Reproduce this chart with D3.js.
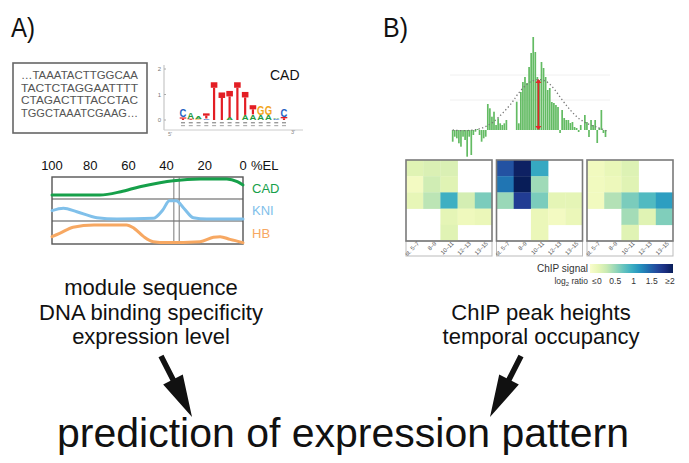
<!DOCTYPE html>
<html><head><meta charset="utf-8">
<script src="https://cdn.jsdelivr.net/npm/d3@7"></script>
<style>
body{margin:0;background:#fff}
svg{display:block}
text{font-family:"Liberation Sans",Arial,sans-serif}
</style>
</head><body>
<svg id="c" width="689" height="463"></svg>
<script>
// ---------------- DATA ----------------
const panelLabels = ["A)", "B)"];
const seqLines = ["…TAAATACTTGGCAA", "TACTCTAGGAATTTT", "CTAGACTTTACCTAC", "TGGCTAAATCGAAG…"];

const logoTitle = "CAD";
const logoTicks = [0, 1, 2];
const logoPositions = [1,2,3,4,5,6,7,8,9,10,11,12,13,14];
// stacks bottom -> top : [letter, bits]
const logoStacks = [
  [["T",0.10],["C",0.33]],
  [["T",0.05],["A",0.24]],
  [["G",0.04],["A",0.08]],
  [["C",0.06],["T",0.20]],
  [["T",1.48]],
  [["T",1.08]],
  [["A",0.10],["T",1.04]],
  [["T",1.48]],
  [["A",0.20],["T",0.90]],
  [["A",0.22],["T",0.36]],
  [["A",0.20],["G",0.36]],
  [["A",0.20],["G",0.36]],
  [["C",0.04],["A",0.06]],
  [["T",0.12],["C",0.30]]
];
const logoColors = {A:"#1f9a3c", C:"#2462c2", G:"#f2a51c", T:"#e31e24"};

const elTicks = [100, 80, 60, 40, 20, 0];
const profileNames = ["CAD", "KNI", "HB"];
const profileColors = ["#16a04a", "#80c0ea", "#f7a862"];
// [ %EL , relative level within row ]
const cadProfile = [[100,0.18],[75,0.18],[64,0.33],[54,0.56],[43.5,0.74],[36.5,0.83],[22.5,0.91],[8.5,0.91],[3,0.79],[0,0.64]];
const kniProfile = [[100,0.47],[94,0.58],[87,0.42],[76.5,0.15],[66,0.09],[47,0.12],[42,0.5],[38.5,0.92],[35,0.92],[31,0.58],[26,0.15],[19,0.09],[0,0.09]];
const hbProfile  = [[100,0.32],[96,0.46],[89,0.73],[78,0.83],[61,0.83],[57,0.68],[52,0.32],[47,0.1],[40,0.06],[22.5,0.1],[15.5,0.29],[12,0.32],[6.8,0.2],[0,0.06]];
const boundaryEL = [36.2, 33.4];

const textA = ["module sequence", "DNA binding specificity", "expression level"];
const textB = ["ChIP peak heights", "temporal occupancy"];
const bottomTitle = "prediction of expression pattern";

// ChIP profile: bar values per genomic bin
const chipValues = [
  -11.7,-6.7,-8.3,-13.3,-16.7,-6.7,-10,-26.7,-6.7,-25,
  -5,-1.7,1,-5,-11.7,-8.3,-6.7,26,21.7,13.3,
  18.3,5,11.7,6.7,5,6.7,10,0,0,0,
  0,28.3,6.7,38,48,53,47,63,77,93,
  78,53,50,68,62,53,40,42,28,27,
  25,23,-3,20,12,10,10,7,8,3,
  2,-2,5,0,15,8,-7,10,5,10,
  -13,2,20,-3,-7
];
// fitted peak (bin, value)
const chipFit = [[0,0],[5,-1],[10.8,0],[14.7,2],[19.5,7],[24.3,17],[29.2,28],[31,35],[36,47],[41.3,52],[47,48],[51.9,33],[56.7,20],[61.6,10],[66.4,5],[71.3,2],[74.6,-1]];
const peakBin = 41.5, peakHeight = 51;

const stages = ["st. 5–7", "8–9", "10–11", "12–13", "13–15"];
const heat1 = [
  [0.26,0.30,0.30,null,null],
  [0.08,0.36,0.26,null,null],
  [0.20,0.46,1.00,0.34,0.72],
  [null,null,0.22,0.12,0.16],
  [null,null,0.26,null,null]
];
const heat2 = [
  [1.56,1.95,1.05,null,null],
  [1.36,2.00,0.58,null,null],
  [0.60,1.70,0.72,0.22,0.22],
  [null,null,0.16,0.08,0.16],
  [null,null,0.16,null,null]
];
const heat3 = [
  [0.10,0.18,0.28,null,null],
  [0.10,0.14,0.26,null,null],
  [0.10,0.50,0.72,0.90,1.12],
  [null,null,0.56,0.26,0.70],
  [null,null,0.26,null,null]
];
const legendTitle = "ChIP signal";
const legendTickValues = [0, 0.5, 1, 1.5, 2];
const legendTickLabels = ["≤0", "0.5", "1", "1.5", "≥2"];

// ---------------- DRAW ----------------
const svg = d3.select("#c");

// Panel labels
svg.append("text").attr("x", 11).attr("y", 37).attr("font-size", 28)
  .attr("textLength", 24).attr("lengthAdjust", "spacingAndGlyphs").attr("fill", "#111").text(panelLabels[0]);
svg.append("text").attr("x", 383).attr("y", 37).attr("font-size", 28)
  .attr("textLength", 25).attr("lengthAdjust", "spacingAndGlyphs").attr("fill", "#111").text(panelLabels[1]);

// ---- Sequence box ----
svg.append("rect").attr("x", 13).attr("y", 63).attr("width", 134).attr("height", 70)
  .attr("fill", "none").attr("stroke", "#666").attr("stroke-width", 1.6);
svg.append("g").selectAll("text").data(seqLines).join("text")
  .attr("x", 21).attr("y", (d, i) => 79 + i * 12.6)
  .attr("font-family", "'Liberation Serif','Times New Roman',serif")
  .attr("font-size", 11.5).attr("fill", "#555")
  .attr("textLength", 117).attr("lengthAdjust", "spacingAndGlyphs")
  .text(d => d);

// ---- Sequence logo ----
const logoY = d3.scaleLinear().domain([0, 2]).range([120, 69]);
const logoX = d3.scalePoint().domain(logoPositions).range([183, 284]);
const gLogo = svg.append("g");
gLogo.append("line").attr("x1", 164).attr("x2", 164).attr("y1", 65).attr("y2", 130).attr("stroke", "#bbb").attr("stroke-width", 1);
gLogo.append("line").attr("x1", 164).attr("x2", 303).attr("y1", 130).attr("y2", 130).attr("stroke", "#ccc").attr("stroke-width", 1);
gLogo.selectAll(".lt").data(logoTicks).join("text").attr("class", "lt")
  .attr("x", 161).attr("y", d => logoY(d) + 2).attr("text-anchor", "end")
  .attr("font-size", 6).attr("fill", "#777").text(d => d);
gLogo.selectAll(".ltk").data(logoTicks).join("line").attr("class", "ltk")
  .attr("x1", 164).attr("x2", 166).attr("y1", d => logoY(d)).attr("y2", d => logoY(d)).attr("stroke", "#aaa");
gLogo.append("text").attr("x", 168).attr("y", 136).attr("font-size", 5.5).attr("fill", "#888").text("5'");
gLogo.append("text").attr("x", 291).attr("y", 134).attr("font-size", 5.5).attr("fill", "#888").text("3'");
gLogo.append("text").attr("x", 270).attr("y", 80).attr("font-size", 14).attr("fill", "#111").text(logoTitle);

logoStacks.forEach((stack, i) => {
  const cx = logoX(logoPositions[i]);
  let cum = 0;
  // tiny grey letters under the baseline
  gLogo.append("rect").attr("x", cx - 2).attr("y", 122).attr("width", 4).attr("height", 1.4).attr("fill", "#9a9a9a");
  gLogo.append("rect").attr("x", cx - 2).attr("y", 125).attr("width", 4).attr("height", 1.2).attr("fill", "#b0b0b0");
  stack.forEach(([L, b]) => {
    const yb = logoY(cum), yt = logoY(cum + b);
    const h = yb - yt;
    const col = logoColors[L];
    if (L === "T") {
      const capH = Math.min(5.5, h * 0.45);
      gLogo.append("rect").attr("x", cx - 3.3).attr("y", yt).attr("width", 6.6).attr("height", capH).attr("fill", col);
      gLogo.append("rect").attr("x", cx - 1.1).attr("y", yt + capH).attr("width", 2.2).attr("height", Math.max(0, h - capH)).attr("fill", col);
    } else {
      const sy = h / 7.2;
      gLogo.append("text").attr("transform", `translate(${cx},${yb}) scale(0.95,${sy})`)
        .attr("text-anchor", "middle").attr("font-size", 10).attr("font-weight", "bold")
        .attr("fill", col).text(L);
    }
    cum += b;
  });
});

// ---- %EL expression profiles ----
const elX = d3.scaleLinear().domain([100, 0]).range([52, 243]);
const rowBounds = [[177, 199], [199, 221], [221, 244]];
const gEL = svg.append("g");
gEL.selectAll(".elt").data(elTicks).join("text").attr("class", "elt")
  .attr("x", d => elX(d)).attr("y", 170).attr("text-anchor", "middle")
  .attr("font-size", 13).attr("fill", "#111").text(d => d);
gEL.append("text").attr("x", 251).attr("y", 170).attr("font-size", 13).attr("fill", "#111").text("%EL");
gEL.append("rect").attr("x", elX(100)).attr("y", 177).attr("width", elX(0) - elX(100)).attr("height", 67)
  .attr("fill", "none").attr("stroke", "#555").attr("stroke-width", 1.4);
[199, 221].forEach(y => gEL.append("line").attr("x1", elX(100)).attr("x2", elX(0)).attr("y1", y).attr("y2", y).attr("stroke", "#555").attr("stroke-width", 1.2));
boundaryEL.forEach(v => gEL.append("line").attr("x1", elX(v)).attr("x2", elX(v)).attr("y1", 177).attr("y2", 244).attr("stroke", "#777").attr("stroke-width", 1));
[cadProfile, kniProfile, hbProfile].forEach((prof, k) => {
  const [top, bot] = rowBounds[k];
  const ry = d3.scaleLinear().domain([0, 1]).range([bot, top]);
  const line = d3.line().x(d => elX(d[0])).y(d => ry(d[1])).curve(d3.curveMonotoneX);
  gEL.append("path").attr("d", line(prof)).attr("fill", "none").attr("stroke", profileColors[k])
    .attr("stroke-width", 3).attr("stroke-linecap", "round");
  gEL.append("text").attr("x", 252).attr("y", (top + bot) / 2 + 5).attr("font-size", 13)
    .attr("fill", profileColors[k]).text(profileNames[k]);
});

// ---- text blocks ----
svg.append("g").selectAll("text").data(textA).join("text")
  .attr("x", 151).attr("y", (d, i) => 295 + i * 24.5).attr("text-anchor", "middle")
  .attr("font-size", 22).attr("fill", "#111").text(d => d);
svg.append("g").selectAll("text").data(textB).join("text")
  .attr("x", 541).attr("y", (d, i) => 319.5 + i * 24.5).attr("text-anchor", "middle")
  .attr("font-size", 22).attr("fill", "#111").text(d => d);
svg.append("text").attr("x", 343).attr("y", 447).attr("text-anchor", "middle")
  .attr("font-size", 41).attr("fill", "#111").text(bottomTitle);

// arrows
function arrow(x1, y1, x2, y2) {
  const dx = x2 - x1, dy = y2 - y1, L = Math.hypot(dx, dy);
  const ux = dx / L, uy = dy / L, px = -uy, py = ux;
  const headL = 42, headW = 11, shaftW = 2.8;
  const bx = x2 - ux * headL, by = y2 - uy * headL;
  const pts = [
    [x1 + px * shaftW, y1 + py * shaftW],
    [bx + px * shaftW, by + py * shaftW],
    [bx + px * headW, by + py * headW],
    [x2, y2],
    [bx - px * headW, by - py * headW],
    [bx - px * shaftW, by - py * shaftW],
    [x1 - px * shaftW, y1 - py * shaftW]
  ];
  svg.append("path").attr("d", d3.line()(pts) + "Z").attr("fill", "#111");
}
arrow(161, 356, 192, 417);
arrow(521, 356, 490, 417);

// ---- ChIP profile ----
const cx = d3.scaleLinear().domain([0, chipValues.length - 1]).range([452.7, 605.5]);
const cy = d3.scaleLinear().domain([-30, 95]).range([160, 35]);
const gChip = svg.append("g");
[55, 30].forEach(v => gChip.append("line").attr("x1", 450).attr("x2", 610).attr("y1", cy(v)).attr("y2", cy(v)).attr("stroke", "#f0f0f0"));
gChip.selectAll("rect").data(chipValues).join("rect")
  .attr("x", (d, i) => cx(i) - 0.85).attr("width", 1.7)
  .attr("y", d => Math.min(cy(d), cy(0))).attr("height", d => Math.abs(cy(d) - cy(0)))
  .attr("fill", "#63bb63");
gChip.append("path").attr("d", d3.line().x(d => cx(d[0])).y(d => cy(d[1])).curve(d3.curveBasis)(chipFit))
  .attr("fill", "none").attr("stroke", "#777").attr("stroke-width", 1.3).attr("stroke-dasharray", "1.3,2.4");
const ax = cx(peakBin);
gChip.append("line").attr("x1", ax).attr("x2", ax).attr("y1", cy(peakHeight) + 3).attr("y2", cy(0) - 3)
  .attr("stroke", "#e3262b").attr("stroke-width", 1.6);
gChip.append("path").attr("d", `M${ax},${cy(peakHeight)} l-3,4 h6 Z M${ax},${cy(0)} l-3,-4 h6 Z`).attr("fill", "#e3262b");

// ---- Heatmaps ----
const ycol = d3.interpolateYlGnBu;
const heatColor = v => ycol(0.04 + 0.96 * Math.min(2, Math.max(0, v)) / 2);
const panelsX = [406, 496.5, 587];
const panelW = 86, cellTop = 160, cellBot = 241, labBot = 256;
[heat1, heat2, heat3].forEach((grid, p) => {
  const x0 = panelsX[p];
  const xb = d3.scaleBand().domain(stages).range([x0, x0 + panelW]);
  const yb = d3.scaleBand().domain(d3.range(grid.length)).range([cellTop, cellBot]);
  const g = svg.append("g");
  g.append("rect").attr("x", x0).attr("y", cellBot).attr("width", panelW).attr("height", labBot - cellBot)
    .attr("fill", "#fff").attr("stroke", "#bbb").attr("stroke-width", 1);
  grid.forEach((row, r) => row.forEach((v, c) => {
    if (v === null) return;
    g.append("rect").attr("x", xb(stages[c])).attr("y", yb(r)).attr("width", xb.bandwidth() + 0.3)
      .attr("height", yb.bandwidth() + 0.3).attr("fill", heatColor(v));
  }));
  g.append("rect").attr("x", x0).attr("y", cellTop).attr("width", panelW).attr("height", cellBot - cellTop)
    .attr("fill", "none").attr("stroke", "#7a7a7a").attr("stroke-width", 1.6);
  g.selectAll(".sl").data(stages).join("text").attr("class", "sl")
    .attr("transform", d => `translate(${xb(d) + xb.bandwidth() / 2 + 5},${cellBot + 3}) rotate(-45)`)
    .attr("text-anchor", "end").attr("font-size", 5.8).attr("fill", "#555").text(d => d);
});

// legend
const lx = d3.scaleLinear().domain([0, 2]).range([597, 670]);
const defs = svg.append("defs");
const grad = defs.append("linearGradient").attr("id", "lg");
d3.range(0, 1.0001, 0.1).forEach(t => grad.append("stop").attr("offset", t).attr("stop-color", ycol(0.04 + 0.96 * t)));
svg.append("rect").attr("x", 590).attr("y", 264).attr("width", 83).attr("height", 9).attr("fill", "url(#lg)");
svg.append("text").attr("x", 588).attr("y", 272).attr("text-anchor", "end").attr("font-size", 10).attr("fill", "#333").text(legendTitle);
const lr = svg.append("text").attr("x", 588).attr("y", 284).attr("text-anchor", "end").attr("font-size", 8.5).attr("fill", "#333");
lr.append("tspan").text("log");
lr.append("tspan").attr("font-size", 6).attr("dy", 2).text("2");
lr.append("tspan").attr("dy", -2).text(" ratio");
svg.selectAll(".lgt").data(legendTickValues).join("text").attr("class", "lgt")
  .attr("x", d => lx(d)).attr("y", 284).attr("text-anchor", "middle").attr("font-size", 8.5).attr("fill", "#333")
  .text((d, i) => legendTickLabels[i]);
</script>
</body></html>
